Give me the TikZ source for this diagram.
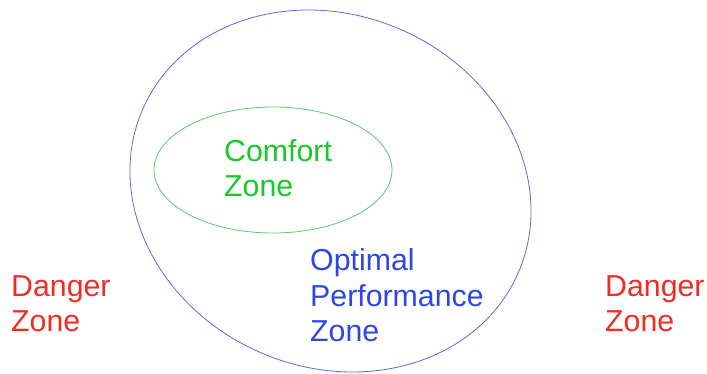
\documentclass[tikz,border=0pt]{standalone}
\usepackage{fontspec}
\setmainfont{Liberation Sans}
\definecolor{dangerred}{RGB}{240,45,35}
\definecolor{optblue}{RGB}{45,70,230}
\definecolor{comfgreen}{RGB}{25,200,40}
\definecolor{ringblue}{RGB}{95,105,225}
\definecolor{ringgreen}{RGB}{95,200,105}
\begin{document}
\begin{tikzpicture}[x=1pt,y=1pt,
  zonetext/.style={anchor=base west,inner sep=0pt,align=left,
    font=\fontsize{30.3}{35.5}\selectfont}]
\useasboundingbox (0,0) rectangle (707,374);
\fill[white] (0,0) rectangle (707,374);
\draw[ringblue,line width=0.8pt,rotate around={-23.5:(330.5,183)}] (330.5,183) ellipse [x radius=204.8,y radius=176.1];
\draw[ringgreen,line width=0.8pt] (273,204) ellipse [x radius=119,y radius=63];
\node[zonetext,text=comfgreen] (comfort) at (224,177) {Comfort\\Zone};
\node[zonetext,text=optblue] (optimal) at (310,32) {Optimal\\Performance\\Zone};
\node[zonetext,text=dangerred] (dangerL) at (11,42) {Danger\\Zone};
\node[zonetext,text=dangerred] (dangerR) at (605,42) {Danger\\Zone};
\end{tikzpicture}
\end{document}
